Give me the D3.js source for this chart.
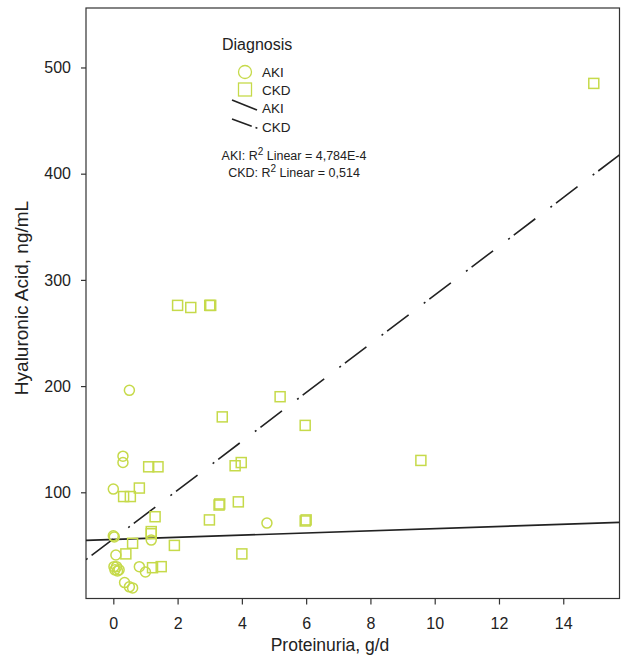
<!DOCTYPE html>
<html><head><meta charset="utf-8">
<script src="https://cdn.jsdelivr.net/npm/d3@7"></script>
<style>body{margin:0;background:#fff} svg text{font-family:"Liberation Sans",Arial,sans-serif;fill:#222}</style>
</head><body><svg id="c" width="621" height="656"></svg>
<script>
// ---- data ----
const akiX = [0.5, 0.3, 0.3, 0.0, 0.0, 0.03, 1.18, 0.08, 0.02, 0.1, 0.18, 0.05, 0.13, 0.81, 1.0, 0.35, 0.5, 0.6, 4.78];
const akiY = [196, 134, 128, 103, 59, 58, 55, 41, 30, 30, 27, 27, 26, 30, 25, 15, 11, 10, 71];
const ckdX = [0.32, 0.53, 0.81, 1.1, 1.39, 1.3, 1.18, 1.18, 0.6, 0.39, 1.22, 1.49, 1.9, 2.99, 3.29, 3.31, 3.89, 4.0, 3.79, 3.98, 3.39, 5.19, 5.97, 5.97, 6.0, 9.57, 14.95, 2.0, 2.41, 3.0, 3.03];
const ckdY = [96, 96, 104, 124, 124, 77, 63, 61, 52, 42, 29, 30, 50, 74, 88, 89, 91, 42, 125, 128, 171, 190, 163, 73, 74, 130, 485, 276, 274, 276, 276];
const fitAKI = {intercept: 55.6, slope: 1.02};
const fitCKD = {intercept: 56.1, slope: 22.96};
const xTicks = [0, 2, 4, 6, 8, 10, 12, 14];
const yTicks = [100, 200, 300, 400, 500];
const xDomain = [-0.85, 15.75];
const yDomain = [0, 556];
const legendTitle = "Diagnosis";
const groups = ["AKI", "CKD"];
const r2Text = ["AKI: R", " Linear = 4,784E-4", "CKD: R", " Linear = 0,514"];

// ---- layout ----
const L = 86, R = 619.5, T = 8, B = 598.5;
const col = "#c6da4a";
const svg = d3.select("#c");
const x = d3.scaleLinear().domain(xDomain).range([L, R]);
const y = d3.scaleLinear().domain(yDomain).range([B, T]);

// frame
svg.append("rect").attr("x", L).attr("y", T).attr("width", R - L).attr("height", B - T)
  .attr("fill", "none").attr("stroke", "#333").attr("stroke-width", 1.2);

// axes
const xa = svg.append("g").attr("transform", `translate(0,${B})`)
  .call(d3.axisBottom(x).tickValues(xTicks).tickSize(6).tickPadding(13));
const ya = svg.append("g").attr("transform", `translate(${L},0)`)
  .call(d3.axisLeft(y).tickValues(yTicks).tickSize(5).tickPadding(10));
[xa, ya].forEach(g => {
  g.select(".domain").remove();
  g.selectAll("line").attr("stroke", "#333").attr("stroke-width", 1.2);
  g.selectAll("text").style("font-size", "16px").attr("fill", "#222");
});

svg.append("text").attr("x", 330).attr("y", 651).attr("text-anchor", "middle")
  .style("font-size", "17.5px").text("Proteinuria, g/d");
svg.append("text").attr("transform", "translate(28,298) rotate(-90)").attr("text-anchor", "middle")
  .style("font-size", "19px").text("Hyaluronic Acid, ng/mL");

// regression lines
svg.append("clipPath").attr("id", "pc").append("rect")
  .attr("x", L).attr("y", T).attr("width", R - L).attr("height", B - T);
function fitLine(f, dash) {
  svg.append("line").attr("clip-path", "url(#pc)")
    .attr("x1", x(xDomain[0])).attr("y1", y(f.intercept + f.slope * xDomain[0]))
    .attr("x2", x(xDomain[1])).attr("y2", y(f.intercept + f.slope * xDomain[1]))
    .attr("stroke", "#222").attr("stroke-width", 1.6)
    .attr("stroke-dasharray", dash);
}
fitLine(fitAKI, null);
fitLine(fitCKD, "2,5,27,19");

// points
const akiData = akiX.map((v, i) => [v, akiY[i]]);
const ckdData = ckdX.map((v, i) => [v, ckdY[i]]);
svg.append("g").selectAll("circle").data(akiData).join("circle")
  .attr("cx", d => x(d[0])).attr("cy", d => y(d[1])).attr("r", 5)
  .attr("fill", "none").attr("stroke", col).attr("stroke-width", 1.5);
svg.append("g").selectAll("rect").data(ckdData).join("rect")
  .attr("x", d => x(d[0]) - 5).attr("y", d => y(d[1]) - 5).attr("width", 10).attr("height", 10)
  .attr("fill", "none").attr("stroke", col).attr("stroke-width", 1.5);

// legend
const lg = svg.append("g");
lg.append("text").attr("x", 222).attr("y", 50).style("font-size", "16px").text(legendTitle);
lg.append("circle").attr("cx", 245).attr("cy", 72).attr("r", 6.5)
  .attr("fill", "none").attr("stroke", col).attr("stroke-width", 1.3);
lg.append("rect").attr("x", 238.5).attr("y", 83).attr("width", 13).attr("height", 13)
  .attr("fill", "none").attr("stroke", col).attr("stroke-width", 1.3);
lg.append("line").attr("x1", 232).attr("y1", 100).attr("x2", 257).attr("y2", 110)
  .attr("stroke", "#222").attr("stroke-width", 1.6);
lg.append("line").attr("x1", 232).attr("y1", 119).attr("x2", 258).attr("y2", 128.5)
  .attr("stroke", "#222").attr("stroke-width", 1.6).attr("stroke-dasharray", "21,4,2,20");
const lx = 262;
[[groups[0], 77], [groups[1], 95], [groups[0], 113], [groups[1], 132]].forEach(([t, yy]) => {
  lg.append("text").attr("x", lx).attr("y", yy).style("font-size", "13.5px").text(t);
});
function r2(yy, pre, post) {
  const t = lg.append("text").attr("x", 294).attr("y", yy).attr("text-anchor", "middle").style("font-size", "12.5px");
  t.append("tspan").text(pre);
  t.append("tspan").attr("dy", -5).style("font-size", "10px").text("2");
  t.append("tspan").attr("dy", 5).text(post);
}
r2(160, r2Text[0], r2Text[1]);
r2(177, r2Text[2], r2Text[3]);
</script></body></html>
